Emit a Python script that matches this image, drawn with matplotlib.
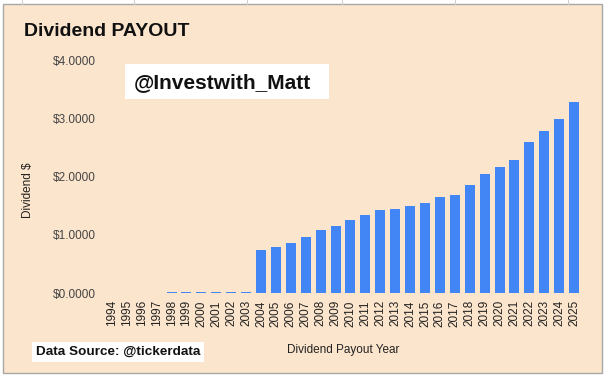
import numpy as np
import matplotlib.pyplot as plt
from matplotlib.patches import Rectangle
from matplotlib.lines import Line2D

# Data
years = [str(y) for y in range(1994, 2026)]
dividends = [
    0.0, 0.0, 0.0, 0.0,
    0.015, 0.015, 0.015, 0.015, 0.015, 0.015,
    0.75, 0.80, 0.87, 0.96, 1.08, 1.16,
    1.26, 1.35, 1.42, 1.45, 1.50, 1.54,
    1.65, 1.69, 1.86, 2.05, 2.17, 2.29,
    2.60, 2.79, 2.99, 3.28,
]
y_ticks = [0, 1, 2, 3, 4]
y_tick_labels = ["$0.0000", "$1.0000", "$2.0000", "$3.0000", "$4.0000"]

bg = "#FCE5CD"
bar_color = "#4285F4"
W, H = 605, 377

plt.rcParams["font.family"] = ["Liberation Sans", "DejaVu Sans"]

fig = plt.figure(figsize=(6.05, 3.77), dpi=100)
fig.patch.set_facecolor("white")

# chart panel (spreadsheet screenshot look)
fig.patches.append(Rectangle((3 / W, 1 - 373 / H), 599 / W, 369 / H,
                             transform=fig.transFigure, facecolor=bg,
                             edgecolor="#a8a8a8", linewidth=1.0, zorder=-10))
for gx in [22, 134, 247, 342, 455, 568]:
    fig.lines.append(Line2D([gx / W, gx / W], [1 - 3.5 / H, 1.0],
                            transform=fig.transFigure, color="#d0d0d0", linewidth=0.8))

ax = fig.add_axes([104.5 / W, 1 - 293.3 / H, 477 / W, 233.3 / H])
ax.set_zorder(1)
ax.set_facecolor(bg)
x = np.arange(len(years))
ax.bar(x, dividends, width=0.67, color=bar_color, linewidth=0)

ax.set_xlim(-0.5, len(years) - 0.5)
ax.set_ylim(0, 4)
ax.set_yticks(y_ticks)
ax.set_yticklabels(y_tick_labels, fontsize=8.5, color="#444444")
ax.set_xticks(x)
ax.set_xticklabels(years, rotation=90, fontsize=8.5, color="#222222")
ax.tick_params(axis="y", length=0, pad=6)
ax.tick_params(axis="x", length=0, pad=5)
for s in ax.spines.values():
    s.set_visible(False)

fig.text(24 / W, 1 - 32 / H, "Dividend PAYOUT", fontsize=14, fontweight="bold",
         color="#111111", va="center", ha="left")
fig.text(28 / W, 1 - 190 / H, "Dividend $", fontsize=8.5, rotation=90,
         color="#222222", va="center", ha="center")
fig.text(343 / W, 1 - 350 / H, "Dividend Payout Year", fontsize=8.5,
         color="#222222", va="center", ha="center")

fig.patches.append(Rectangle((125 / W, 1 - 99.3 / H), 204 / W, 35 / H,
                             transform=fig.transFigure, facecolor="white",
                             edgecolor="none", zorder=3))
fig.text(134 / W, 1 - 83 / H, "@Investwith_Matt", fontsize=15, fontweight="bold",
         color="#111111", va="center", ha="left", zorder=4)

fig.patches.append(Rectangle((31.7 / W, 1 - 362 / H), 172 / W, 20 / H,
                             transform=fig.transFigure, facecolor="white",
                             edgecolor="none", zorder=3))
fig.text(36 / W, 1 - 352 / H, "Data Source: @tickerdata", fontsize=9.7, fontweight="bold",
         color="#111111", va="center", ha="left", zorder=4)

fig.savefig("out.png", dpi=100, facecolor=fig.get_facecolor())
